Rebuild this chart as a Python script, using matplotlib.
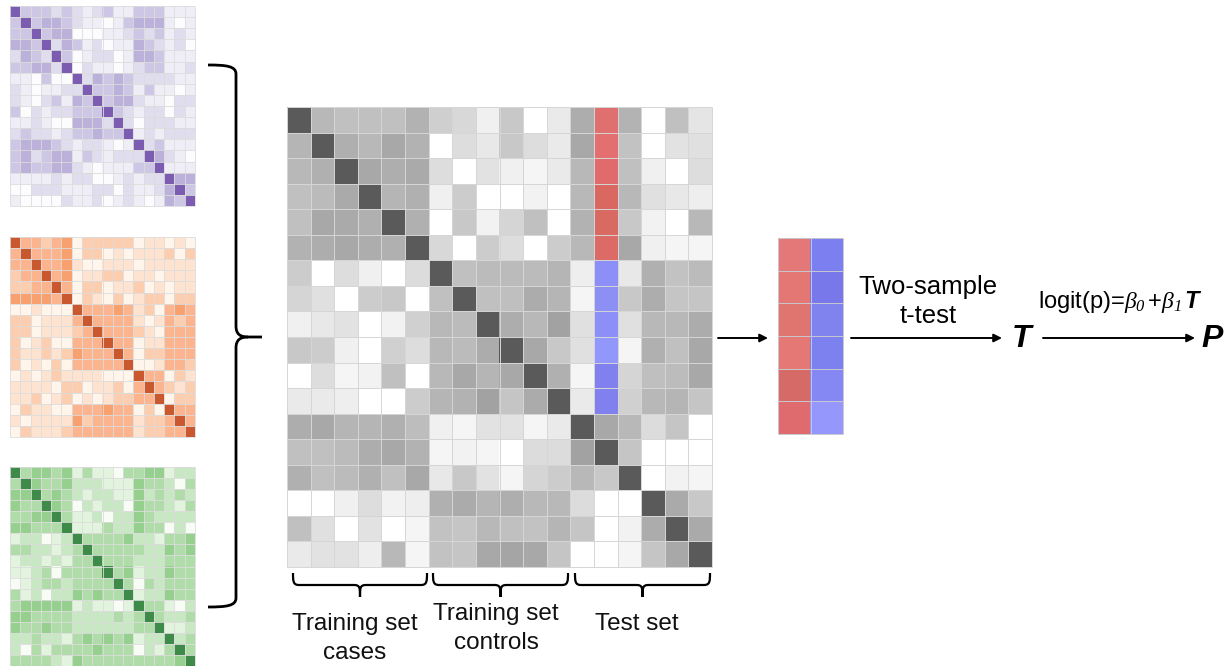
import numpy as np
import matplotlib
matplotlib.use("Agg")
import matplotlib.pyplot as plt
from matplotlib.colors import to_rgb
from matplotlib.path import Path
from matplotlib.patches import PathPatch

plt.rcParams['font.family'] = ['Liberation Sans', 'DejaVu Sans']
plt.rcParams['mathtext.fontset'] = 'custom'
plt.rcParams['mathtext.rm'] = 'Liberation Serif:italic'
plt.rcParams['mathtext.it'] = 'Liberation Serif:italic'
plt.rcParams['mathtext.bf'] = 'Liberation Sans:bold:italic'

# correlation heatmaps on the left: shade level 0..5, 9 = diagonal
purple = [
    [9, 3, 3, 3, 2, 3, 2, 1, 2, 3, 1, 1, 3, 3, 3, 1, 1, 1],
    [3, 9, 3, 4, 4, 3, 2, 1, 1, 0, 1, 3, 4, 4, 4, 1, 0, 1],
    [3, 3, 9, 3, 4, 4, 0, 0, 0, 1, 1, 2, 3, 2, 3, 1, 2, 1],
    [4, 4, 3, 9, 2, 4, 3, 1, 2, 0, 1, 1, 4, 3, 2, 1, 2, 0],
    [2, 4, 3, 2, 9, 3, 0, 1, 2, 2, 0, 1, 4, 4, 3, 1, 1, 1],
    [3, 3, 4, 4, 2, 9, 0, 2, 1, 1, 0, 1, 2, 3, 3, 1, 1, 2],
    [1, 1, 0, 3, 0, 0, 9, 2, 4, 3, 4, 3, 2, 2, 2, 2, 1, 1],
    [2, 1, 0, 1, 1, 2, 2, 9, 3, 3, 4, 3, 1, 3, 1, 1, 0, 1],
    [2, 1, 0, 2, 3, 1, 4, 3, 9, 3, 4, 4, 2, 1, 1, 0, 2, 2],
    [3, 0, 2, 1, 2, 2, 3, 3, 3, 9, 3, 2, 1, 2, 2, 0, 2, 1],
    [1, 1, 2, 1, 0, 0, 4, 4, 4, 2, 9, 2, 0, 2, 2, 2, 1, 1],
    [2, 3, 2, 2, 1, 2, 3, 3, 4, 3, 3, 9, 1, 2, 1, 2, 2, 2],
    [3, 4, 4, 4, 3, 2, 1, 2, 2, 1, 0, 1, 9, 2, 3, 1, 1, 1],
    [3, 4, 2, 3, 4, 4, 1, 3, 2, 1, 2, 2, 2, 9, 4, 2, 1, 0],
    [3, 4, 3, 3, 4, 4, 2, 1, 0, 1, 1, 1, 3, 3, 9, 1, 1, 1],
    [1, 1, 1, 1, 2, 1, 2, 2, 0, 0, 1, 2, 1, 2, 2, 9, 4, 4],
    [0, 0, 2, 2, 2, 1, 1, 1, 2, 2, 0, 2, 1, 1, 2, 4, 9, 3],
    [1, 0, 0, 0, 0, 2, 1, 1, 2, 0, 1, 2, 1, 0, 1, 4, 3, 9],
]
orange = [
    [9, 3, 3, 2, 3, 4, 0, 2, 2, 2, 2, 2, 0, 1, 1, 0, 1, 0],
    [3, 9, 3, 3, 3, 4, 0, 2, 2, 0, 1, 0, 1, 1, 1, 2, 0, 2],
    [3, 3, 9, 3, 3, 4, 1, 0, 0, 1, 1, 1, 0, 1, 1, 1, 1, 1],
    [2, 3, 3, 9, 3, 4, 0, 1, 1, 2, 2, 0, 1, 1, 0, 1, 1, 1],
    [2, 2, 3, 3, 9, 3, 0, 2, 2, 0, 1, 1, 2, 0, 1, 0, 1, 1],
    [4, 4, 4, 4, 3, 9, 0, 2, 1, 0, 2, 0, 1, 2, 2, 0, 2, 2],
    [0, 0, 1, 0, 0, 0, 9, 3, 3, 3, 4, 3, 1, 2, 0, 3, 4, 3],
    [2, 2, 0, 1, 1, 1, 3, 9, 3, 3, 3, 3, 1, 0, 1, 3, 2, 3],
    [2, 2, 0, 1, 1, 1, 2, 3, 9, 3, 3, 3, 2, 1, 0, 3, 3, 3],
    [2, 0, 1, 2, 0, 0, 3, 3, 3, 9, 3, 3, 0, 1, 1, 3, 3, 3],
    [2, 1, 1, 2, 1, 2, 4, 3, 3, 3, 9, 3, 0, 2, 2, 3, 3, 3],
    [2, 0, 1, 0, 2, 0, 3, 3, 3, 3, 3, 9, 0, 0, 1, 3, 3, 2],
    [0, 1, 0, 1, 2, 1, 1, 1, 1, 0, 0, 0, 9, 3, 3, 0, 2, 1],
    [1, 1, 1, 1, 0, 2, 2, 0, 1, 1, 2, 0, 3, 9, 3, 2, 1, 2],
    [1, 1, 2, 0, 1, 2, 0, 1, 0, 1, 2, 2, 3, 3, 9, 0, 2, 2],
    [0, 2, 1, 1, 0, 0, 3, 3, 3, 4, 3, 3, 0, 2, 0, 9, 3, 3],
    [1, 0, 1, 1, 1, 1, 4, 2, 3, 3, 3, 3, 1, 2, 2, 3, 9, 3],
    [0, 2, 1, 1, 1, 2, 3, 3, 3, 3, 3, 3, 1, 2, 2, 3, 3, 9],
]
green = [
    [9, 3, 4, 4, 3, 4, 1, 3, 1, 1, 0, 3, 3, 4, 4, 1, 2, 2],
    [3, 9, 4, 3, 3, 4, 2, 2, 2, 1, 1, 1, 4, 3, 3, 2, 0, 3],
    [4, 4, 9, 3, 4, 3, 2, 1, 2, 2, 1, 1, 4, 2, 3, 2, 3, 2],
    [4, 3, 3, 9, 4, 3, 0, 2, 1, 2, 2, 0, 4, 3, 3, 2, 1, 3],
    [3, 3, 4, 4, 9, 3, 1, 1, 2, 0, 2, 2, 4, 3, 2, 2, 2, 2],
    [4, 4, 3, 3, 3, 9, 1, 1, 1, 3, 2, 2, 4, 3, 3, 0, 2, 0],
    [1, 2, 2, 0, 1, 2, 9, 3, 3, 3, 3, 4, 2, 2, 1, 3, 3, 4],
    [3, 3, 2, 2, 1, 2, 3, 9, 3, 3, 3, 3, 3, 2, 2, 4, 3, 4],
    [1, 2, 2, 1, 2, 1, 3, 3, 9, 3, 3, 3, 2, 2, 2, 3, 3, 3],
    [1, 1, 2, 3, 0, 3, 3, 3, 3, 9, 3, 4, 1, 2, 2, 4, 3, 3],
    [0, 1, 2, 3, 3, 2, 3, 3, 3, 3, 9, 3, 0, 3, 2, 3, 3, 3],
    [3, 1, 2, 0, 2, 2, 4, 3, 4, 3, 3, 9, 1, 2, 2, 4, 3, 3],
    [3, 4, 4, 4, 4, 4, 1, 2, 1, 1, 0, 1, 9, 3, 3, 1, 0, 2],
    [4, 4, 3, 3, 3, 3, 2, 2, 2, 2, 3, 2, 3, 9, 3, 2, 2, 3],
    [4, 3, 3, 4, 3, 3, 2, 2, 2, 2, 2, 2, 3, 3, 9, 1, 1, 2],
    [2, 2, 3, 2, 2, 1, 3, 4, 3, 4, 3, 4, 1, 2, 2, 9, 2, 3],
    [2, 0, 3, 1, 3, 3, 3, 3, 4, 3, 3, 3, 0, 2, 1, 3, 9, 3],
    [3, 3, 3, 3, 2, 1, 4, 3, 3, 3, 3, 3, 3, 3, 3, 3, 4, 9],
]

purple_colors = ['#fcfbfd', '#efedf5', '#e0ddee', '#cdc6e4', '#bbb1da', '#a99ccf', '#7b5cb1']
orange_colors = ['#fff5eb', '#fee4d0', '#fdcdb0', '#fcb48e', '#f9a06f', '#f88c55', '#c9582f']
green_colors = ['#f7fcf5', '#e2f3de', '#c8e8c3', '#b0dca9', '#96d08f', '#80c47a', '#3e8a48']

# big kernel matrix: grey brightness (0-255), 90 = diagonal
grey = [
    [90, 184, 192, 192, 192, 178, 207, 216, 240, 200, 255, 234, 173, 0, 179, 255, 192, 229],
    [181, 90, 175, 184, 168, 178, 255, 221, 232, 200, 221, 234, 168, 0, 194, 255, 226, 224],
    [184, 176, 90, 168, 174, 170, 221, 255, 226, 240, 245, 234, 184, 0, 192, 240, 255, 221],
    [192, 187, 170, 90, 181, 176, 240, 204, 255, 255, 242, 255, 184, 0, 184, 224, 232, 238],
    [192, 168, 170, 176, 90, 176, 255, 200, 242, 213, 192, 255, 178, 0, 200, 242, 255, 184],
    [178, 173, 168, 173, 176, 90, 216, 255, 204, 221, 255, 204, 184, 0, 168, 240, 245, 245],
    [204, 255, 221, 240, 255, 220, 90, 192, 187, 187, 187, 181, 238, 0, 232, 176, 194, 187],
    [213, 224, 255, 204, 200, 255, 192, 90, 192, 191, 172, 181, 245, 0, 200, 173, 197, 197],
    [240, 232, 226, 255, 242, 208, 184, 187, 90, 173, 184, 162, 224, 0, 224, 184, 184, 172],
    [200, 204, 240, 255, 208, 221, 184, 187, 172, 90, 168, 200, 224, 0, 245, 176, 192, 168],
    [255, 221, 245, 242, 192, 255, 184, 168, 181, 168, 90, 176, 245, 0, 213, 191, 188, 168],
    [234, 234, 238, 255, 255, 204, 181, 178, 162, 197, 171, 90, 234, 0, 208, 184, 181, 197],
    [173, 168, 181, 181, 176, 189, 240, 245, 226, 226, 245, 234, 90, 168, 184, 220, 197, 255],
    [192, 192, 187, 173, 168, 178, 245, 242, 245, 255, 220, 220, 162, 90, 197, 255, 255, 255],
    [176, 192, 187, 176, 192, 168, 232, 200, 226, 245, 213, 204, 184, 200, 90, 255, 242, 245],
    [255, 255, 240, 221, 242, 238, 176, 171, 181, 174, 184, 184, 220, 255, 255, 90, 170, 200],
    [192, 224, 255, 226, 255, 245, 194, 197, 184, 192, 194, 181, 197, 255, 242, 172, 90, 170],
    [234, 226, 226, 238, 184, 245, 194, 197, 168, 165, 168, 197, 255, 255, 245, 197, 168, 90],
]
# highlighted test-subject column (column 13): cases red, controls blue
test_col = 13
test_col_colors = ['#e07070', '#e36f70', '#e06a6c', '#d96860', '#d96a62', '#dc6a66',
                   '#8c8ff8', '#8c90f5', '#8c8ff8', '#9297fc', '#8080ee', '#8080ee']

# two-column summary matrix (cases / controls similarity)
case_sim = ['#e47878', '#e47674', '#e07570', '#e57775', '#d66a66', '#e06b6e']
ctrl_sim = ['#7c7ff0', '#7878eb', '#8083ee', '#7d80ef', '#8588f2', '#9597fd']

group_labels = ['Training set\ncases', 'Training set\ncontrols', 'Test set']


def draw_cells(ax, rgb, x0, x1, y0, y1, line='#d6d6d6', lw=0.7):
    rgb = np.asarray(rgb)
    nr, nc = rgb.shape[:2]
    ax.imshow(rgb, extent=(x0, x1, y1, y0), interpolation='nearest',
              aspect='auto', zorder=1)
    xs = np.linspace(x0, x1, nc + 1)
    ys = np.linspace(y0, y1, nr + 1)
    ax.vlines(xs, y0, y1, colors=line, lw=lw, zorder=2)
    ax.hlines(ys, x0, x1, colors=line, lw=lw, zorder=2)


def levels_to_rgb(levels, colors):
    lv = np.array(levels)
    lv = np.where(lv == 9, 6, lv)
    pal = np.array([to_rgb(c) for c in colors])
    return pal[lv]


fig = plt.figure(figsize=(12.28, 6.66), dpi=100)
ax = fig.add_axes([0, 0, 1, 1])

draw_cells(ax, levels_to_rgb(purple, purple_colors), 10, 195, 6, 206, line='#dcdcdc', lw=0.6)
draw_cells(ax, levels_to_rgb(orange, orange_colors), 10, 195, 237, 437, line='#dcdcdc', lw=0.6)
draw_cells(ax, levels_to_rgb(green, green_colors), 10, 195, 467, 666, line='#dcdcdc', lw=0.6)

# main grey matrix
g = np.array(grey, dtype=float) / 255.0
main_rgb = np.stack([g, g, g], axis=-1)
for i, c in enumerate(test_col_colors):
    main_rgb[i, test_col] = to_rgb(c)
draw_cells(ax, main_rgb, 287, 712, 107, 567)

# summary matrix
summary_rgb = np.array([[to_rgb(a), to_rgb(b)] for a, b in zip(case_sim, ctrl_sim)])
draw_cells(ax, summary_rgb, 778, 843, 238, 434, line='#c8c8d0')

# big curly brace
M, L, C = Path.MOVETO, Path.LINETO, Path.CURVE4
brace = Path(
    [(208, 65), (226, 65), (236, 66), (236, 74),
     (236, 326), (236, 334), (240, 337), (248, 337),
     (262, 337)],
    [M, C, C, C, L, C, C, C, L])
brace2 = Path(
    [(248, 337), (240, 337), (236, 340), (236, 348),
     (236, 598), (236, 606), (226, 607), (208, 607)],
    [M, C, C, C, L, C, C, C])
for p in (brace, brace2):
    ax.add_patch(PathPatch(p, fill=False, lw=2.0, color='black',
                           capstyle='butt', joinstyle='round', zorder=3))

# small braces under the main matrix
spans = [(293, 427), (433, 568), (575, 710)]
for (a, b) in spans:
    m = (a + b) / 2
    p = Path(
        [(a, 573), (a, 581), (a, 585), (a + 6, 585),
         (m - 6, 585), (m, 585), (m, 588), (m, 597),
         (m, 588), (m, 585), (m + 6, 585),
         (b - 6, 585), (b, 585), (b, 581), (b, 573)],
        [M, C, C, C, L, C, C, C, C, C, C, L, C, C, C])
    ax.add_patch(PathPatch(p, fill=False, lw=1.6, color='black', zorder=3))

label_pos = [(355, 630), (496, 620), (637, 630)]
for txt, (x, y) in zip(group_labels, label_pos):
    for k, line in enumerate(txt.split('\n')):
        ax.text(x, y + 29 * k, line, ha='center', va='baseline',
                fontsize=17.5, color='#111111')

arrow = dict(arrowstyle='-|>', lw=1.4, color='black',
             mutation_scale=12, shrinkA=0, shrinkB=0)
ax.annotate('', xy=(768, 338), xytext=(718, 338), arrowprops=arrow)
ax.annotate('', xy=(1002, 338), xytext=(851, 338), arrowprops=arrow)
ax.annotate('', xy=(1195, 338), xytext=(1043, 338), arrowprops=arrow)

ax.text(928, 294, 'Two-sample', ha='center', va='baseline', fontsize=18.5)
ax.text(928, 323, 't-test', ha='center', va='baseline', fontsize=18.5)
ax.text(1021, 347, 'T', ha='center', va='baseline', fontsize=23,
        fontweight='bold', fontstyle='italic')
ax.text(1212, 347, 'P', ha='center', va='baseline', fontsize=23,
        fontweight='bold', fontstyle='italic')
ax.text(1120, 308, r'logit(p)=$\beta_0\,$+$\beta_1\,\mathbf{T}$', ha='center',
        va='baseline', fontsize=17)

ax.set_xlim(0, 1228)
ax.set_ylim(666, 0)
ax.axis('off')
fig.savefig('out.png', dpi=100, facecolor='white')
